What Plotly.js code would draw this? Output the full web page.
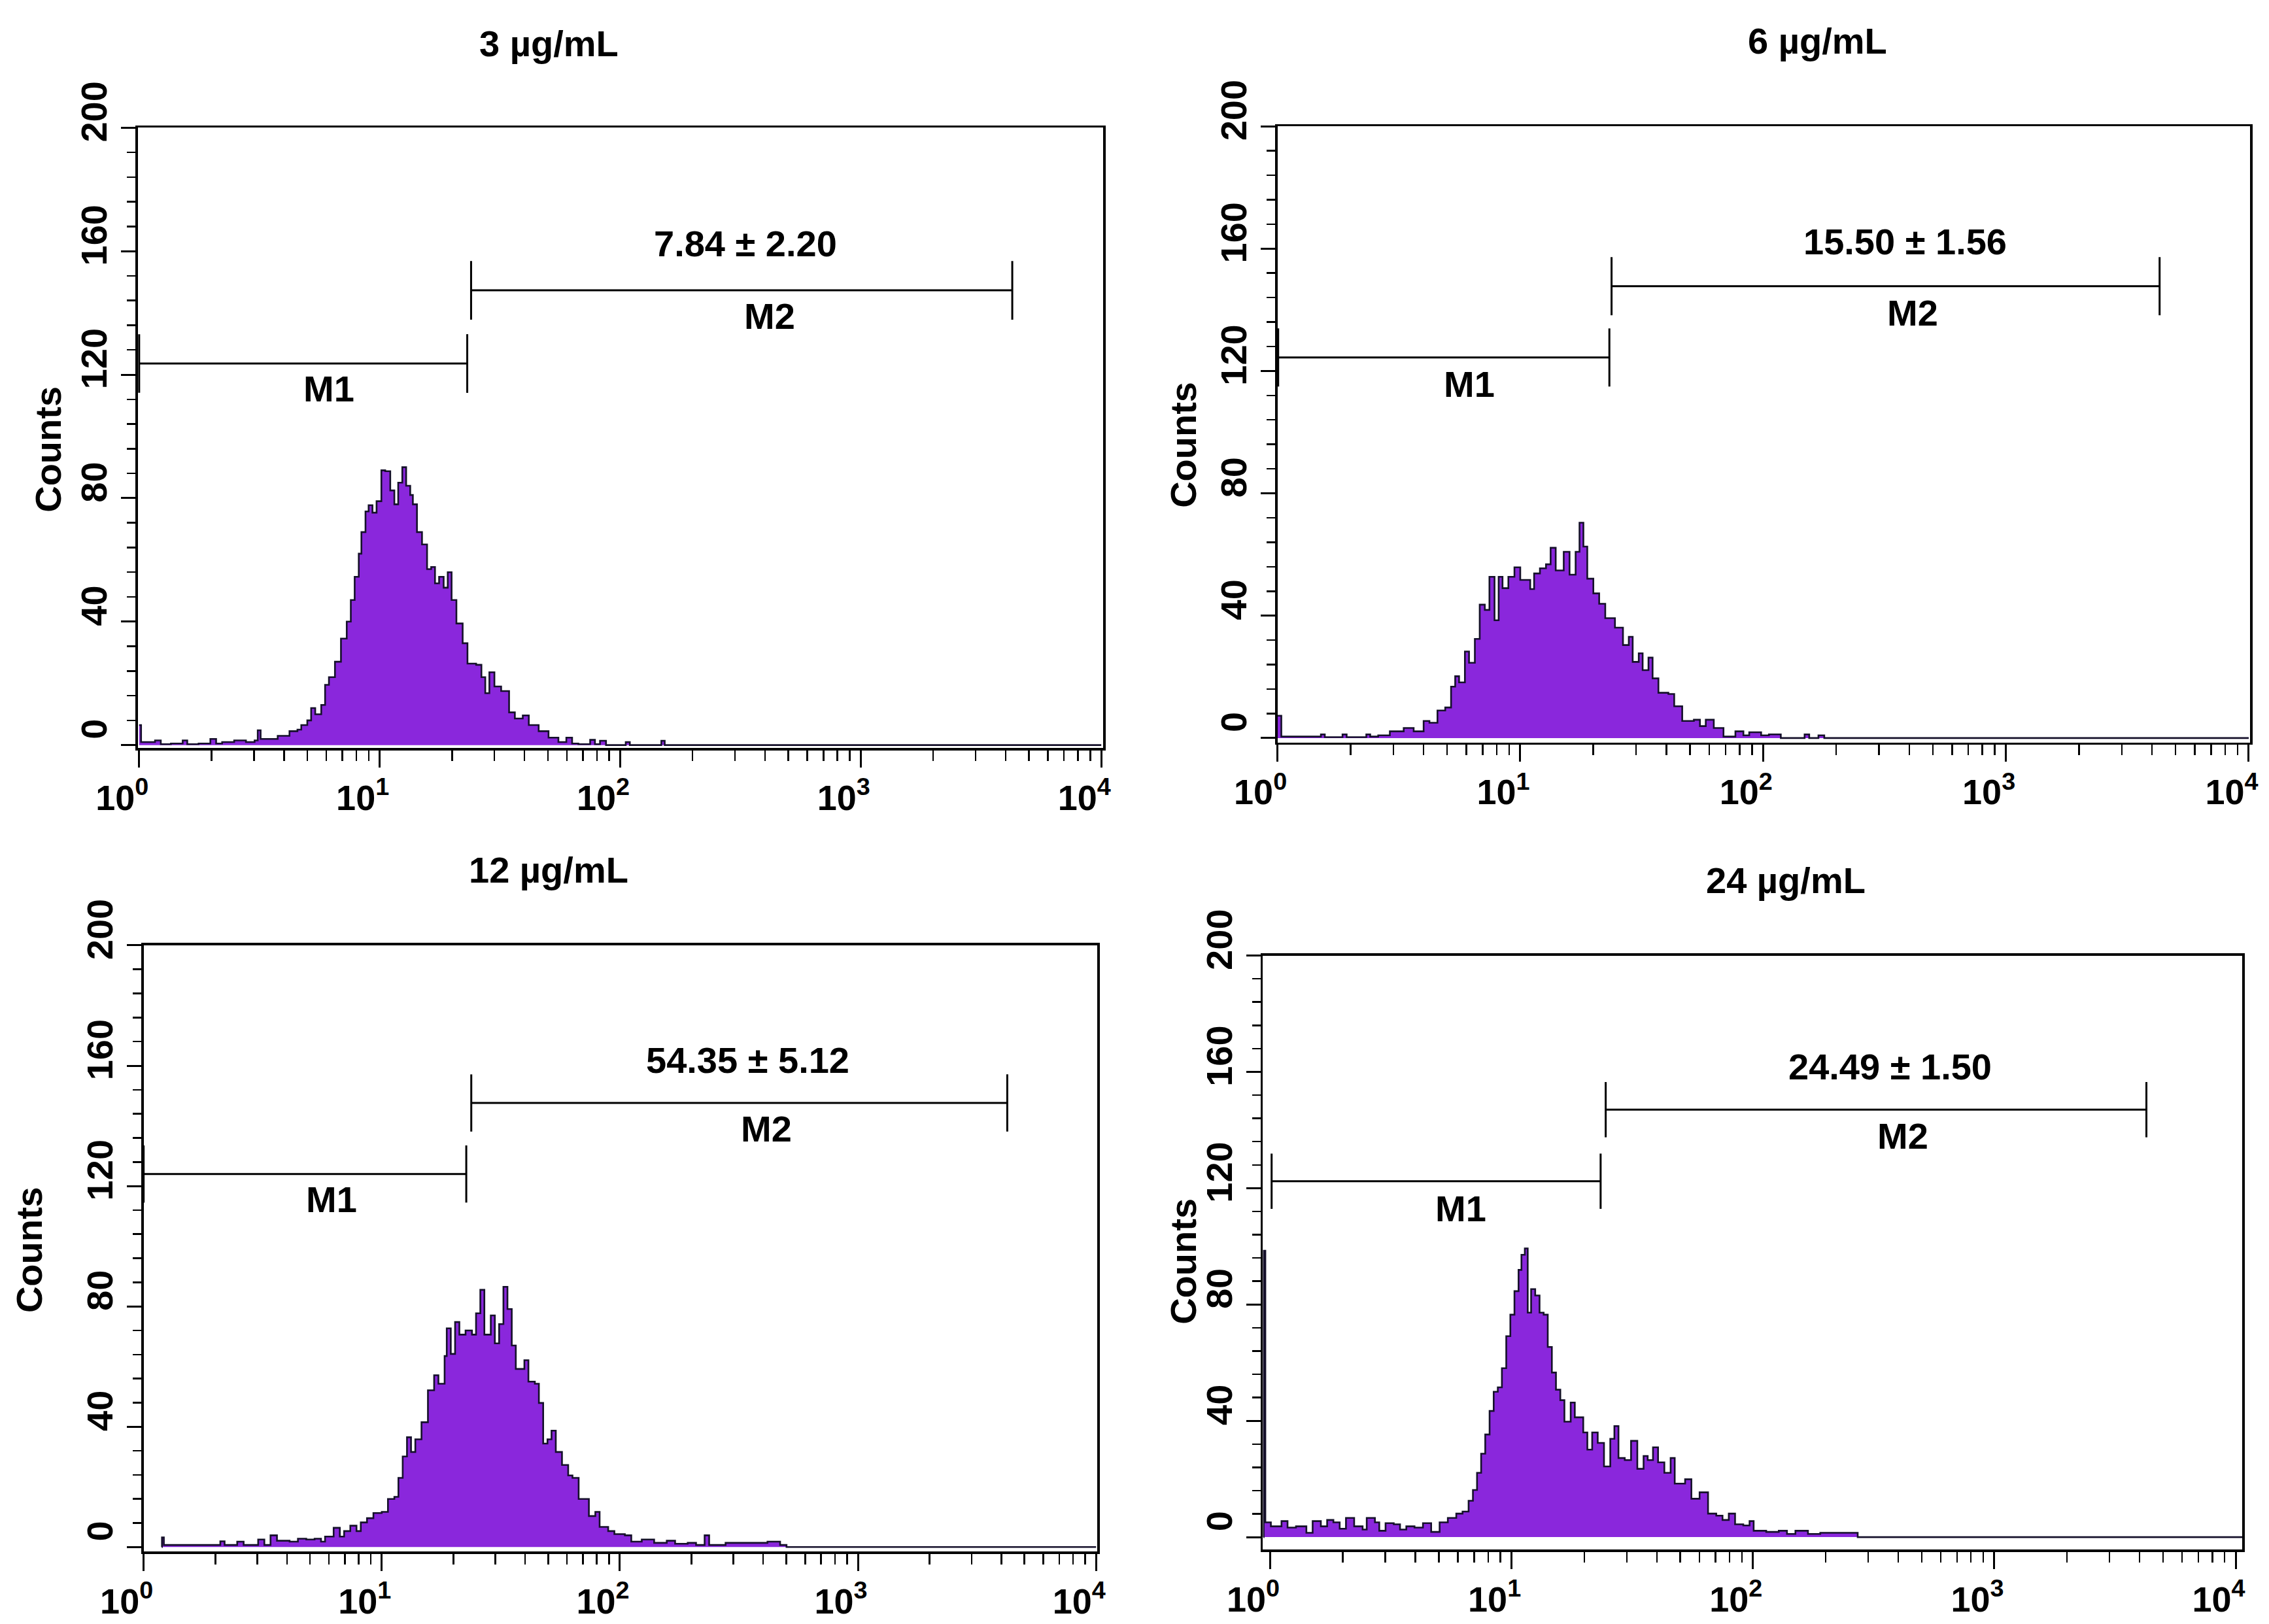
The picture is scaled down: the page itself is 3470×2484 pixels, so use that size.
<!DOCTYPE html>
<html>
<head>
<meta charset="utf-8">
<script src="https://cdn.plot.ly/plotly-3.0.1.min.js"></script>
<style>
  html, body { margin: 0; padding: 0; background: #fff; }
  #grafico { width: 3470px; height: 2484px; }
</style>
</head>
<body>
<div id="grafico"></div>
<script>
// Flow cytometry histograms, four doses. Each histogram is kept as
// [log10 fluorescence, counts] pairs.

const CONCENTRACIONES = ['3 µg/mL', '6 µg/mL', '12 µg/mL', '24 µg/mL'];
const PORCENTAJES_M2 = ['7.84 ± 2.20', '15.50 ± 1.56', '54.35 ± 5.12', '24.49 ± 1.50'];

const HIST_3 = [
  [0.000, 6.5], [0.008, 1], [0.066, 1.5], [0.090, 0.3], [0.132, 0.5], [0.181, 1.5], [0.200, 0.3], [0.247, 0.5],
  [0.296, 2], [0.320, 0.5], [0.345, 1], [0.395, 1.5], [0.444, 1], [0.480, 1.5], [0.493, 4.8], [0.505, 2],
  [0.526, 2], [0.576, 3], [0.625, 4.5], [0.658, 5], [0.674, 6.5], [0.699, 8], [0.715, 12], [0.732, 10],
  [0.757, 13], [0.773, 19.5], [0.789, 22], [0.814, 27], [0.839, 34.5], [0.863, 40], [0.880, 47], [0.896, 54.5],
  [0.913, 62], [0.924, 69], [0.941, 75.7], [0.954, 77.7], [0.970, 75.3], [0.987, 79], [1.007, 89], [1.023, 88.7],
  [1.044, 82.5], [1.061, 78], [1.077, 85], [1.094, 90], [1.110, 84], [1.127, 81], [1.138, 78], [1.155, 69],
  [1.176, 65], [1.197, 57], [1.214, 57.7], [1.230, 52.4], [1.247, 54.5], [1.266, 51], [1.283, 56], [1.299, 47],
  [1.319, 39.4], [1.345, 33], [1.365, 26.4], [1.401, 26], [1.423, 22], [1.439, 16.8], [1.456, 23.6], [1.477, 19],
  [1.505, 17.5], [1.538, 10.6], [1.562, 8.6], [1.595, 9.6], [1.620, 6.5], [1.661, 4.5], [1.702, 2.4], [1.743, 1],
  [1.776, 2.4], [1.800, 0.5], [1.826, 0.3], [1.875, 1.7], [1.895, 0.3], [1.916, 1.4], [1.941, 0], [2.023, 1],
  [2.040, 0], [2.171, 1.4], [2.185, 0], [4.000, 0],
];

const HIST_6 = [
  [0.000, 7.3], [0.016, 0.5], [0.179, 1.2], [0.195, 0.3], [0.268, 1.2], [0.285, 0.3], [0.366, 1.2], [0.382, 0.5],
  [0.415, 0.9], [0.463, 2.2], [0.520, 3.3], [0.561, 2.2], [0.602, 5.6], [0.626, 5], [0.659, 9], [0.691, 10],
  [0.715, 16.8], [0.732, 20.2], [0.748, 18.2], [0.772, 28.3], [0.789, 24.6], [0.813, 32.4], [0.833, 43.6], [0.854, 41.9],
  [0.873, 52.7], [0.894, 38.5], [0.911, 52.7], [0.927, 49], [0.951, 52.7], [0.976, 55.8], [1.000, 51.7], [1.041, 48.7],
  [1.057, 53.8], [1.081, 55.5], [1.106, 56.8], [1.125, 62.2], [1.146, 54.8], [1.179, 60.9], [1.203, 53.4], [1.228, 60.9],
  [1.244, 70.4], [1.260, 62.6], [1.276, 52.1], [1.301, 47.3], [1.325, 43.9], [1.350, 39.2], [1.390, 36.1], [1.423, 30.4],
  [1.447, 33.1], [1.463, 24.9], [1.488, 27.7], [1.504, 22.2], [1.528, 26.3], [1.545, 19.5], [1.569, 14.8], [1.610, 14.4],
  [1.634, 10.4], [1.667, 5.6], [1.715, 6], [1.740, 3.9], [1.764, 6], [1.797, 3.3], [1.837, 0.5], [1.886, 2.2],
  [1.919, 0.9], [1.943, 1.9], [1.992, 0.9], [2.024, 1.2], [2.073, 0], [2.171, 1.2], [2.190, 0], [2.228, 0.9],
  [2.252, 0], [4.000, 0],
];

const HIST_12 = [
  [0.076, 0], [0.077, 3.2], [0.085, 0.7], [0.305, 0.7], [0.322, 1.9], [0.340, 0.7], [0.393, 1.8], [0.420, 0.7],
  [0.481, 2.5], [0.507, 0.7], [0.533, 3.9], [0.560, 2.1], [0.613, 1.8], [0.648, 2.8], [0.683, 2.5], [0.718, 2.8],
  [0.745, 1.8], [0.762, 3.5], [0.798, 6.4], [0.824, 3.5], [0.842, 5.3], [0.868, 7.1], [0.894, 5.3], [0.912, 8.2],
  [0.938, 9.6], [0.965, 11.3], [1.000, 11.7], [1.026, 16], [1.053, 16.7], [1.070, 23], [1.088, 30.1], [1.106, 36.5],
  [1.123, 31.6], [1.141, 35.8], [1.167, 41.5], [1.194, 52.1], [1.220, 57.1], [1.238, 54.3], [1.264, 63.5], [1.273, 72.7],
  [1.290, 64.2], [1.308, 74.8], [1.326, 70.6], [1.352, 72], [1.379, 70.6], [1.396, 77.7], [1.414, 85.5], [1.431, 70.6],
  [1.458, 77], [1.475, 67.7], [1.493, 74.1], [1.511, 86.5], [1.528, 79.1], [1.546, 67], [1.563, 59.2], [1.599, 62.1],
  [1.616, 55], [1.643, 54.3], [1.660, 47.9], [1.678, 34.4], [1.696, 35.8], [1.713, 38.7], [1.731, 31.6], [1.757, 27.3],
  [1.783, 23.8], [1.801, 23], [1.827, 16], [1.845, 16], [1.870, 10.3], [1.897, 11.7], [1.915, 6.7], [1.951, 5.3],
  [1.977, 4.3], [2.021, 3.9], [2.048, 1.8], [2.092, 2.5], [2.144, 1.4], [2.197, 2.1], [2.232, 1.1], [2.285, 1.4],
  [2.320, 0.7], [2.356, 3.9], [2.375, 0.7], [2.444, 1.4], [2.496, 1.4], [2.549, 1.4], [2.620, 1.8], [2.673, 0.7],
  [2.700, 0], [4.000, 0],
];

const HIST_24 = [
  [-0.028, 0], [-0.027, 98.5], [-0.020, 5.1], [0.003, 3.7], [0.047, 5.5], [0.072, 3.3], [0.107, 3.7], [0.150, 1.5],
  [0.176, 5.5], [0.210, 3.7], [0.236, 5.9], [0.262, 5.1], [0.288, 2.9], [0.314, 6.6], [0.348, 3.7], [0.383, 2.6],
  [0.400, 6.6], [0.434, 5.1], [0.452, 2.2], [0.478, 4.8], [0.512, 4.4], [0.538, 2.6], [0.564, 3.7], [0.598, 3.3],
  [0.633, 4.8], [0.667, 1.8], [0.702, 5.1], [0.736, 6.6], [0.771, 8.1], [0.797, 8.8], [0.822, 12.5], [0.840, 16.2],
  [0.857, 22.1], [0.874, 28.7], [0.891, 35.3], [0.909, 43.4], [0.926, 50], [0.943, 51.5], [0.960, 58.1], [0.978, 69.1],
  [0.995, 76.5], [1.012, 84.6], [1.029, 91.9], [1.041, 97.1], [1.055, 99.3], [1.067, 77.2], [1.081, 85.3], [1.098, 83.1],
  [1.116, 77.2], [1.133, 76.5], [1.150, 65.4], [1.167, 56.6], [1.184, 50.7], [1.202, 47.1], [1.219, 39.7], [1.245, 46.3],
  [1.262, 41.2], [1.279, 41.2], [1.297, 36], [1.314, 30.1], [1.334, 36], [1.357, 32.4], [1.383, 24.3], [1.409, 33.8],
  [1.426, 38.2], [1.443, 27.2], [1.469, 26.5], [1.495, 33.1], [1.521, 23.5], [1.547, 27.9], [1.564, 26.5], [1.586, 30.9],
  [1.607, 25.7], [1.633, 22.1], [1.659, 27.2], [1.676, 18.4], [1.702, 18.4], [1.719, 19.9], [1.745, 13.2], [1.779, 15.4],
  [1.814, 8.1], [1.848, 7.4], [1.874, 5.9], [1.900, 8.1], [1.926, 4.4], [1.960, 4], [1.986, 5.5], [2.003, 2.2],
  [2.055, 1.8], [2.107, 2.2], [2.141, 1.1], [2.176, 2.2], [2.228, 1.1], [2.279, 1.5], [2.348, 1.5], [2.417, 1.5],
  [2.434, 0], [4.027, 0],
];

const HISTOGRAMAS = [HIST_3, HIST_6, HIST_12, HIST_24];

// marker gates, in log10 decades, and the count level of each bar
const M1_LIMITES = [[0.000, 1.364], [0.003, 1.367], [0.000, 1.355], [0.006, 1.369]];
const M1_ALTURA = [123.6, 124.4, 124.0, 122.4];
const M2_LIMITES = [[1.380, 3.630], [1.376, 3.633], [1.376, 3.627], [1.390, 3.630]];
const M2_ALTURA = [147.3, 147.7, 147.6, 147.0];
// label positions (x in decades, y in counts)
const ETIQUETA_M1 = [[0.79, 115.5], [0.79, 115.7], [0.79, 115.5], [0.79, 113.0]];
const ETIQUETA_M2 = [[2.62, 139.0], [2.615, 139.0], [2.615, 139.0], [2.62, 138.0]];
const ETIQUETA_PORC = [[2.52, 162.5], [2.585, 162.3], [2.538, 161.8], [2.568, 161.8]];

const X_TICKS = [1, 10, 100, 1000, 10000];
const X_TICK_TEXT = ['10<sup>0</sup>', '10<sup>1</sup>', '10<sup>2</sup>', '10<sup>3</sup>', '10<sup>4</sup>'];
const X_MINOR = [2, 3, 4, 5, 6, 7, 8, 9, 20, 30, 40, 50, 60, 70, 80, 90,
  200, 300, 400, 500, 600, 700, 800, 900, 2000, 3000, 4000, 5000, 6000, 7000, 8000, 9000];
const Y_TICKS = [0, 40, 80, 120, 160, 200];

// geometry of each panel on the page (paper fractions)
const PANELES = [
  { dx: [0.0608, 0.4862], dy: [0.5393, 0.9214], rx: [-0.005, 4.008], ry: [-1.0, 200], titulo: [0.2418, 0.9732], counts: [0.0211, 0.7232] },
  { dx: [0.5630, 0.9917], dy: [0.5427, 0.9223], rx: [0.0, 4.006], ry: [-1.5, 200], titulo: [0.8010, 0.9750], counts: [0.5214, 0.7260] },
  { dx: [0.0633, 0.4837], dy: [0.0446, 0.4179], rx: [0.0, 4.006], ry: [-1.5, 200], titulo: [0.2418, 0.4643], counts: [0.0128, 0.2304] },
  { dx: [0.5566, 0.9882], dy: [0.0458, 0.4116], rx: [-0.03, 4.027], ry: [-4.3, 200], titulo: [0.7870, 0.4580], counts: [0.5214, 0.2232] },
];

const MORADO = '#8a27dc';
const FUENTE = 'Liberation Sans, Arial, Helvetica, sans-serif';
const MARCA_MEDIA = 9.5; // half height of the gate end ticks, counts

function barraMarcador(lim, y) {
  const a = 10 ** lim[0];
  const b = 10 ** lim[1];
  return {
    x: [a, b, null, a, a, null, b, b],
    y: [y, y, null, y - MARCA_MEDIA, y + MARCA_MEDIA, null, y - MARCA_MEDIA, y + MARCA_MEDIA],
  };
}

const trazas = [];
const layout = {
  width: 3470,
  height: 2484,
  margin: { l: 0, r: 0, t: 0, b: 0 },
  paper_bgcolor: '#fff',
  plot_bgcolor: '#fff',
  showlegend: false,
  font: { family: FUENTE, color: '#000' },
  annotations: [],
};

PANELES.forEach((p, i) => {
  const n = i === 0 ? '' : String(i + 1);
  const xref = 'x' + n;
  const yref = 'y' + n;

  const hist = HISTOGRAMAS[i];
  trazas.push({
    type: 'scatter',
    mode: 'lines',
    x: hist.map((h) => 10 ** h[0]),
    y: hist.map((h) => h[1]),
    xaxis: xref,
    yaxis: yref,
    fill: 'tozeroy',
    fillcolor: MORADO,
    line: { color: '#15102a', width: 2.6, shape: 'hv' },
    hoverinfo: 'skip',
  });

  [barraMarcador(M1_LIMITES[i], M1_ALTURA[i]), barraMarcador(M2_LIMITES[i], M2_ALTURA[i])].forEach((m) => {
    trazas.push({
      type: 'scatter',
      mode: 'lines',
      x: m.x,
      y: m.y,
      xaxis: xref,
      yaxis: yref,
      connectgaps: false,
      line: { color: '#000', width: 3 },
      hoverinfo: 'skip',
    });
  });

  layout['xaxis' + n] = {
    type: 'log',
    domain: p.dx,
    range: p.rx,
    anchor: yref,
    showline: true,
    mirror: true,
    linecolor: '#000',
    linewidth: 3.5,
    showgrid: false,
    zeroline: false,
    tickmode: 'array',
    tickvals: X_TICKS,
    ticktext: X_TICK_TEXT,
    ticks: 'outside',
    ticklen: 26,
    tickwidth: 3,
    tickcolor: '#000',
    ticklabelshift: -26,
    tickfont: { family: FUENTE, size: 54, weight: 'bold', color: '#000' },
    minor: { tickmode: 'array', tickvals: X_MINOR, ticks: 'outside', ticklen: 16, tickwidth: 2.5, tickcolor: '#000', showgrid: false },
  };
  layout['yaxis' + n] = {
    domain: p.dy,
    range: p.ry,
    anchor: xref,
    showline: true,
    mirror: true,
    linecolor: '#000',
    linewidth: 3.5,
    showgrid: false,
    zeroline: false,
    tickmode: 'array',
    tickvals: Y_TICKS,
    ticks: 'outside',
    ticklen: 22,
    tickwidth: 3,
    tickcolor: '#000',
    tickangle: -90,
    ticklabelshift: -16,
    tickfont: { family: FUENTE, size: 56, weight: 'bold', color: '#000' },
    minor: { tickmode: 'linear', tick0: 0, dtick: 8, ticks: 'outside', ticklen: 13, tickwidth: 2.5, tickcolor: '#000', showgrid: false },
  };

  const fuenteEtiqueta = { family: FUENTE, size: 56, weight: 'bold', color: '#000' };
  const centrada = { showarrow: false, xanchor: 'center', yanchor: 'middle', font: fuenteEtiqueta };
  layout.annotations.push(
    { ...centrada, xref: 'paper', yref: 'paper', x: p.titulo[0], y: p.titulo[1], text: '<b>' + CONCENTRACIONES[i] + '</b>' },
    { ...centrada, xref: 'paper', yref: 'paper', x: p.counts[0], y: p.counts[1], text: '<b>Counts</b>', textangle: -90 },
    { ...centrada, xref, yref, x: ETIQUETA_PORC[i][0], y: ETIQUETA_PORC[i][1], text: '<b>' + PORCENTAJES_M2[i] + '</b>' },
    { ...centrada, xref, yref, x: ETIQUETA_M2[i][0], y: ETIQUETA_M2[i][1], text: '<b>M2</b>' },
    { ...centrada, xref, yref, x: ETIQUETA_M1[i][0], y: ETIQUETA_M1[i][1], text: '<b>M1</b>' },
  );
});

Plotly.newPlot('grafico', trazas, layout, { displayModeBar: false, staticPlot: true });
</script>
</body>
</html>
